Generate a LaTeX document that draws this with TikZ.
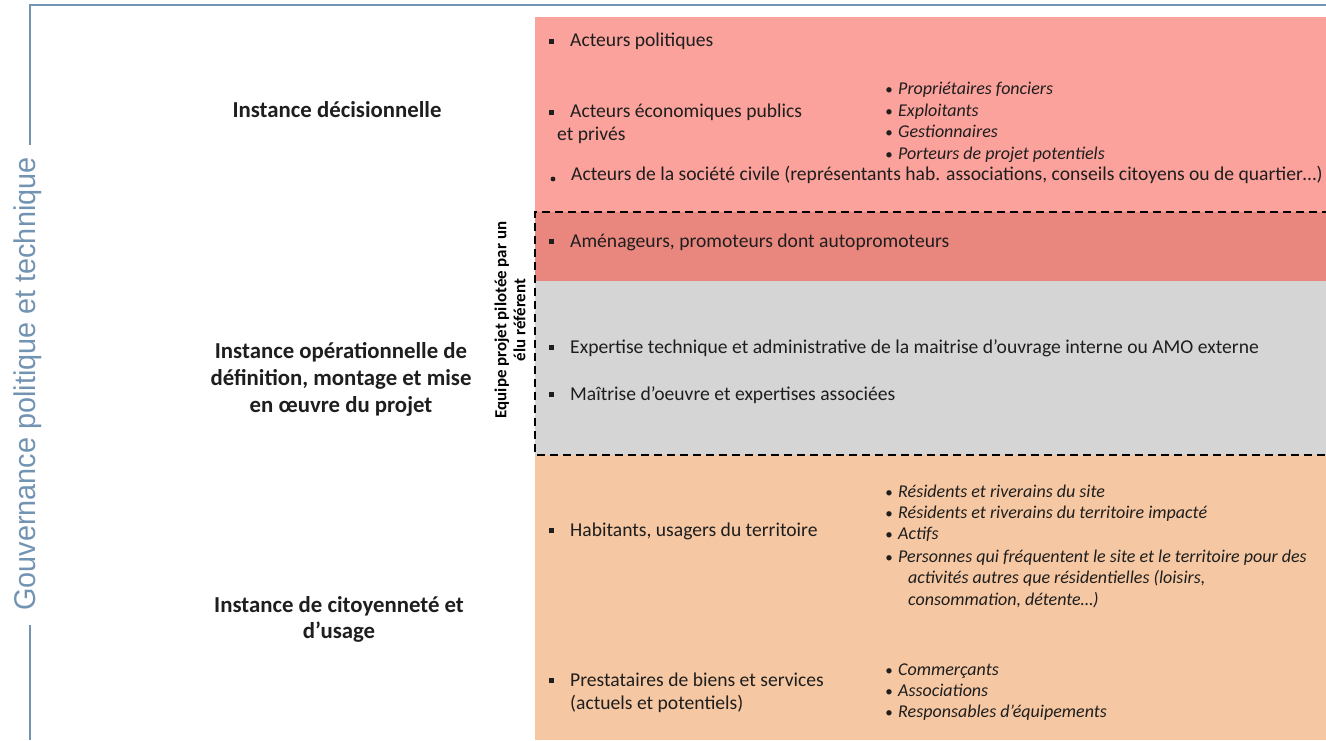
\documentclass[tikz,border=0pt]{standalone}
\usepackage{fontspec}
\setmainfont{Carlito}
\newfontfamily\condfont[FakeStretch=0.96]{Liberation Sans}
\definecolor{frameblue}{HTML}{7393B3}
\definecolor{pinkA}{HTML}{FBA29C}
\definecolor{redB}{HTML}{E9877F}
\definecolor{greyC}{HTML}{D5D5D5}
\definecolor{peachD}{HTML}{F5C7A2}
\definecolor{txt}{HTML}{1E1E1E}
\newcommand{\sqbul}{\rule{5pt}{5pt}}
\begin{document}
\begin{tikzpicture}[x=1pt,y=-1pt,
  item/.style={anchor=base west, inner sep=0pt, text=txt, font=\fontsize{19.6}{23}\selectfont},
  sub/.style={anchor=base west, inner sep=0pt, text=txt, font=\fontsize{18}{21}\selectfont\itshape},
  subbul/.style={anchor=base, inner sep=0pt, text=txt, font=\fontsize{15}{18}\selectfont},
  level/.style={anchor=base, inner sep=0pt, text=txt, font=\bfseries\fontsize{22.8}{27}\selectfont},
  bul/.style={anchor=center, inner sep=0pt, text=txt}
]
\useasboundingbox (0,0) rectangle (1326,740);
% frame
\node[rotate=90, anchor=base, inner sep=0pt, text=frameblue, font=\condfont\fontsize{30}{32}\selectfont] (gov) at (35,384) {Gouvernance politique et technique};
\coordinate (tr) at (1326,5);
\draw[frameblue, line width=2pt] (30,145) -- (30,5) -- (tr);
\draw[frameblue, line width=2pt] (30,625) -- (30,740);
% bands
\fill[pinkA] (535,17) rectangle (1326,212);
\fill[redB] (535,212) rectangle (1326,281);
\fill[greyC] (535,281) rectangle (1326,455);
\fill[peachD] (535,455) rectangle (1326,740);
% dashed team box
\coordinate (dtr) at (1330,212);
\coordinate (dtl) at (535,212);
\coordinate (dbl) at (535,455);
\coordinate (dbr) at (1330,455);
\draw[black, line width=1.8pt, dash pattern=on 8pt off 5pt] (dtr) -- (dtl) -- (dbl) -- (dbr);
% level labels
\node[level] (l1) at (337,117) {Instance décisionnelle};
\node[level] (l2a) at (341,358) {Instance opérationnelle de};
\node[level] (l2b) at (341,385) {définition, montage et mise};
\node[level] (l2c) at (341,412) {en œuvre du projet};
\node[level] (l3a) at (339,612) {Instance de citoyenneté et};
\node[level] (l3b) at (339,638) {d’usage};
\node[rotate=90, align=center, inner sep=0pt, text=black, font=\bfseries\fontsize{16.9}{19}\selectfont] (team) at (510,320) {Equipe projet pilotée par un\\élu référent};
% decision items
\node[item] (a1) at (570,46) {Acteurs politiques};
\node[bul] at (551,41) {\sqbul};
\node[item] (a2) at (570,117) {Acteurs économiques publics};
\node[bul] at (551,112) {\sqbul};
\node[item] (a2b) at (557,140) {et privés};
\node[sub] (s1) at (898,94) {Propriétaires fonciers};
\node[sub] (s2) at (898,116) {Exploitants};
\node[sub] (s3) at (898,137) {Gestionnaires};
\node[sub] (s4) at (898,159) {Porteurs de projet potentiels};
\foreach \yy in {94,116,137,159} \node[subbul] at (889,\yy) {\textbullet};
\node[item] (a3) at (571,180) {Acteurs de la société civile (représentants hab. associations, conseils citoyens ou de quartier…)};
\fill[txt] (553,179) circle (2.4pt);
% operational items
\node[item] (b1) at (570,247) {Aménageurs, promoteurs dont autopromoteurs};
\node[bul] at (551,241) {\sqbul};
\node[item] (b2) at (570,353) {Expertise technique et administrative de la maitrise d’ouvrage interne ou AMO externe};
\node[bul] at (551,347) {\sqbul};
\node[item] (b3) at (570,400) {Maîtrise d’oeuvre et expertises associées};
\node[bul] at (551,394) {\sqbul};
% citizen items
\node[item] (c1) at (570,536) {Habitants, usagers du territoire};
\node[bul] at (551,530) {\sqbul};
\node[sub] (t1) at (898,497) {Résidents et riverains du site};
\node[sub] (t2) at (898,518) {Résidents et riverains du territoire impacté};
\node[sub] (t3) at (898,539) {Actifs};
\node[sub] (t4) at (898,562) {Personnes qui fréquentent le site et le territoire pour des};
\node[sub] (t5) at (908,583) {activités autres que résidentielles (loisirs,};
\node[sub] (t6) at (908,605) {consommation, détente…)};
\foreach \yy in {497,518,539,562} \node[subbul] at (889,\yy) {\textbullet};
\node[item] (c2) at (570,686) {Prestataires de biens et services};
\node[bul] at (551,680) {\sqbul};
\node[item] (c2b) at (570,709) {(actuels et potentiels)};
\node[sub] (u1) at (898,675) {Commerçants};
\node[sub] (u2) at (898,696) {Associations};
\node[sub] (u3) at (898,717) {Responsables d’équipements};
\foreach \yy in {675,696,717} \node[subbul] at (889,\yy) {\textbullet};
\end{tikzpicture}
\end{document}
